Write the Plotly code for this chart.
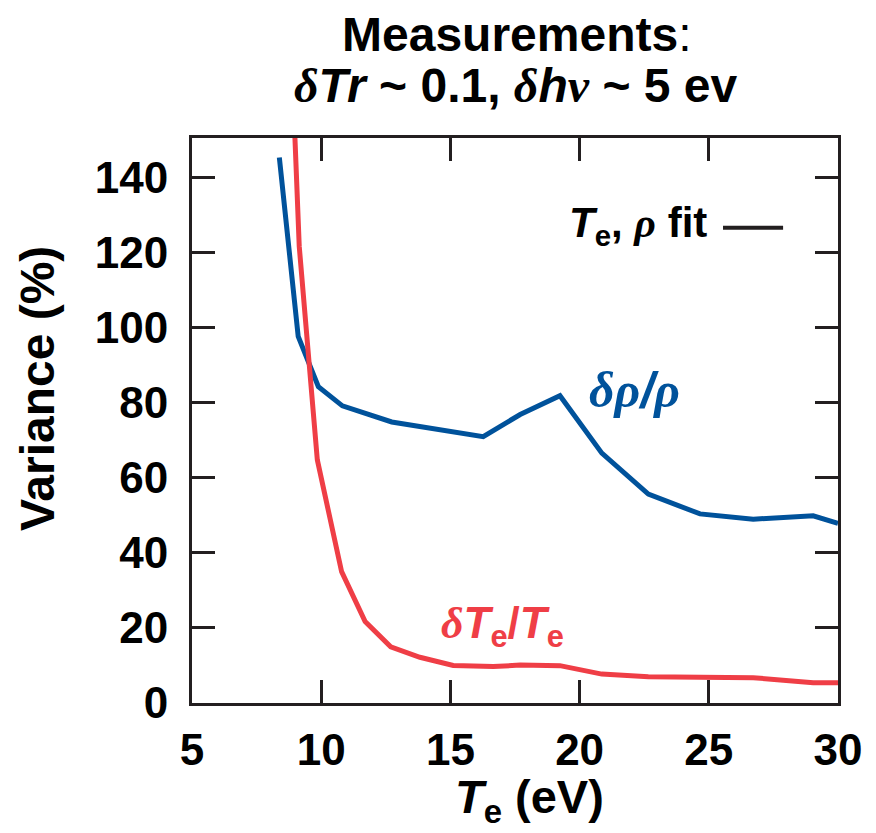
import plotly.graph_objects as go

# ---- data ----
te_rho = [8.38, 9.11, 9.89, 10.82, 12.73, 16.27, 17.7, 19.24, 20.86, 22.66, 24.66, 26.72, 29.04, 30.0]
var_rho = [145.4, 97.7, 84.3, 79.2, 74.9, 71.0, 76.9, 81.9, 66.6, 55.7, 50.4, 49.0, 49.9, 47.9]

te_te = [8.97, 9.15, 9.85, 10.79, 11.70, 12.69, 13.82, 15.11, 16.66, 17.7, 19.24, 20.86, 22.66, 24.9, 26.72, 29.04, 30.0]
var_te = [153.0, 121.7, 64.8, 35.0, 21.7, 15.0, 12.2, 10.0, 9.7, 10.1, 9.95, 7.7, 7.0, 7.0, 6.75, 5.4, 5.4]

x_ticks = [5, 10, 15, 20, 25, 30]
y_ticks = [0, 20, 40, 60, 80, 100, 120, 140]

BLUE = "#00529B"
RED = "#EF3E46"
SANS = "Liberation Sans"

fig = go.Figure()
fig.add_trace(go.Scatter(x=te_rho, y=var_rho, mode="lines",
                         line=dict(color=BLUE, width=5), showlegend=False))
fig.add_trace(go.Scatter(x=te_te, y=var_te, mode="lines",
                         line=dict(color=RED, width=5), showlegend=False))

axis_common = dict(showgrid=False, zeroline=False, showline=True, linecolor="#231F20",
                   linewidth=3, ticks="inside", ticklen=23, tickwidth=3, tickcolor="#231F20",
                   mirror="ticks",
                   tickfont=dict(family=SANS, size=44, color="black", weight="bold"))

fig.update_xaxes(range=[5, 30], tickvals=x_ticks, ticktext=[str(v) for v in x_ticks],
                 ticklabelstandoff=6, **axis_common)
fig.update_yaxes(range=[0, 150.6], tickvals=y_ticks, ticktext=[str(v) for v in y_ticks],
                 ticklabelstandoff=12, **axis_common)

def sym(ch):
    return f'<span style="font-family:Liberation Serif">{ch}</span>'

ann = []
# Title lines
ann.append(dict(text="<b>Measurements</b>:", x=0.502, y=1.183, xref="paper", yref="paper",
                showarrow=False, xanchor="center", yanchor="middle",
                font=dict(family=SANS, size=48, color="black")))
ann.append(dict(text=f"<b><i>{sym('δ')}Tr</i> ~ 0.1, <i>{sym('δ')}h{sym('ν')}</i> ~ 5 ev</b>",
                x=0.502, y=1.093, xref="paper", yref="paper",
                showarrow=False, xanchor="center", yanchor="middle",
                font=dict(family=SANS, size=48, color="black")))
# Axis titles
ann.append(dict(text="<b>Variance (%)</b>", x=-0.238, y=0.556, xref="paper", yref="paper",
                showarrow=False, textangle=-90, xanchor="center", yanchor="middle",
                font=dict(family=SANS, size=48, color="black")))
ann.append(dict(text="<b><i>T</i><sub>e</sub> (eV)</b>", x=0.522, y=-0.172, xref="paper", yref="paper",
                showarrow=False, xanchor="center", yanchor="middle",
                font=dict(family=SANS, size=47, color="black")))
# Series labels
ann.append(dict(text=f"<b><i>{sym('δρ')}/{sym('ρ')}</i></b>", x=22.14, y=83.5,
                showarrow=False, xanchor="center", yanchor="middle",
                font=dict(family=SANS, size=50, color=BLUE)))
ann.append(dict(text=f"<b><i>{sym('δ')}T</i><sub>e</sub>/<i>T</i><sub>e</sub></b>", x=17.0, y=20.5,
                showarrow=False, xanchor="center", yanchor="middle",
                font=dict(family=SANS, size=44, color=RED)))
# Legend-like key
ann.append(dict(text=f"<b><i>T</i><sub>e</sub>, <i>{sym('ρ')}</i> fit</b>", x=0.801, y=0.845,
                xref="paper", yref="paper", showarrow=False, xanchor="right", yanchor="middle",
                font=dict(family=SANS, size=42, color="black")))

fig.add_shape(type="line", xref="paper", yref="paper", x0=0.822, x1=0.915, y0=0.841, y1=0.841,
              line=dict(color="#231F20", width=4))

fig.update_layout(width=876, height=833, margin=dict(l=192, r=38, t=138, b=130),
                  paper_bgcolor="white", plot_bgcolor="white", annotations=ann,
                  font=dict(family=SANS))

fig.write_html("out.html")
